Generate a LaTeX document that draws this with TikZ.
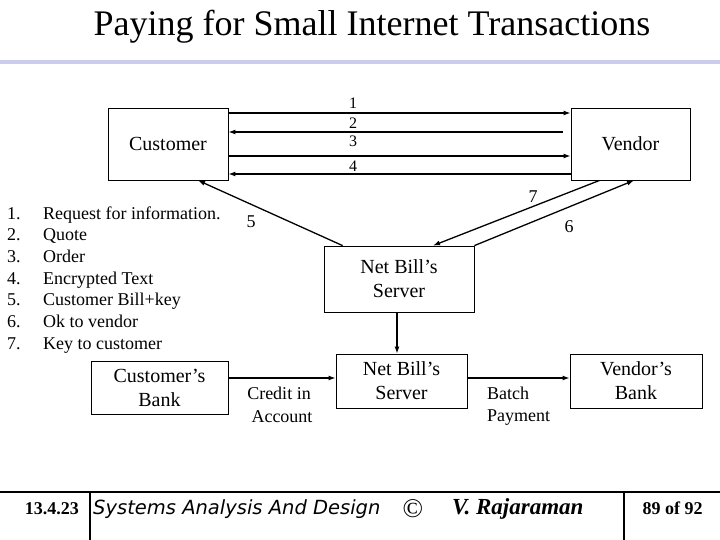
\documentclass[tikz,border=0pt]{standalone}
\usepackage{fontspec}
\setmainfont{Liberation Serif}
\newfontfamily\footsans{DejaVu Sans}
\usetikzlibrary{arrows.meta,calc}
\definecolor{lav}{RGB}{204,204,238}
\tikzset{
  box/.style={draw, line width=0.8pt, inner sep=0pt, align=center,
    font=\fontsize{20}{24}\selectfont},
  harr/.style={line width=1.8pt, -{Latex[length=7pt,width=5pt]}},
  darr/.style={line width=1.3pt, -{Latex[length=7pt,width=5pt]}},
  lbl/.style={anchor=base, inner sep=0pt},
  foot/.style={line width=1.5pt}
}
\begin{document}
\begin{tikzpicture}[x=1pt,y=-1pt]
\useasboundingbox (0,0) rectangle (720,540);
% title
\node[lbl, font=\fontsize{36}{40}\selectfont] (title) at (372,36) {Paying for Small Internet Transactions};
\draw[lav, line width=4pt] (0,62) coordinate (rl) -- (720,62) coordinate (rr);
% boxes
\node[box, minimum width=120pt, minimum height=72pt] (cust) at (168,144) {Customer};
\node[box, minimum width=119pt, minimum height=72pt] (vend) at (630.5,144) {Vendor};
\node[box, minimum width=150pt, minimum height=66pt] (srv) at (399,279) {Net Bill’s\\Server};
\node[box, minimum width=131pt, minimum height=54pt] (srv2) at (401.5,381) {Net Bill’s\\Server};
\node[box, minimum width=137pt, minimum height=53pt] (cbank) at (159.5,387.5) {Customer’s\\Bank};
\node[box, minimum width=132pt, minimum height=54pt] (vbank) at (636,381) {Vendor’s\\Bank};
% customer <-> vendor
\draw[harr] ([yshift=31pt]cust.east) -- ([yshift=31pt]cust.east -| vend.west);
\draw[harr] ([xshift=-8pt,yshift=12pt]vend.west) -- ([yshift=12pt]vend.west -| cust.east);
\draw[harr] ([yshift=-12pt]cust.east) -- ([yshift=-12pt]cust.east -| vend.west);
\draw[harr] ([yshift=-30pt]vend.west) -- ([yshift=-30pt]vend.west -| cust.east);
\node[lbl, font=\fontsize{16}{18}\selectfont] (l1) at (353,108.5) {1};
\node[lbl, font=\fontsize{16}{18}\selectfont] (l2) at (353,128.5) {2};
\node[lbl, font=\fontsize{16}{18}\selectfont] (l3) at (353,146.5) {3};
\node[lbl, font=\fontsize{16}{18}\selectfont] (l4) at (353,171.5) {4};
% diagonals
\draw[darr] ([xshift=19pt]srv.north west) -- ([xshift=30pt]cust.south);
\draw[darr] ([xshift=29pt]vend.south west) -- ([xshift=34pt]srv.north);
\draw[darr] (srv.north east) -- ([xshift=3.5pt]vend.south);
\node[lbl, font=\fontsize{18}{20}\selectfont] (l5) at (251,227) {5};
\node[lbl, font=\fontsize{18}{20}\selectfont] (l6) at (569,233) {6};
\node[lbl, font=\fontsize{18}{20}\selectfont] (l7) at (533,203) {7};
% vertical and bottom
\draw[harr] ([xshift=-2pt]srv.south) -- ([xshift=-2pt]srv.south |- srv2.north);
\draw[harr] ([yshift=9.5pt]cbank.east) -- ([yshift=9.5pt]cbank.east -| srv2.west);
\draw[harr] ([yshift=3pt]srv2.east) -- ([yshift=3pt]srv2.east -| vbank.west);
\node[lbl, font=\fontsize{18}{20}\selectfont] (cr1) at (279,399) {Credit in};
\node[lbl, font=\fontsize{18}{20}\selectfont] (cr2) at (282,422) {Account};
\node[lbl, anchor=base west, font=\fontsize{18}{20}\selectfont] (bp1) at (487,399) {Batch};
\node[lbl, anchor=base west, font=\fontsize{18}{20}\selectfont] (bp2) at (487,421) {Payment};
% list
\node[anchor=base west, inner sep=0pt, font=\fontsize{18}{21.67}\selectfont] (list) at (7,219)
{\begin{tabular}[t]{@{}p{36pt}@{}l@{}}
1. & Request for information.\\
2. & Quote\\
3. & Order\\
4. & Encrypted Text\\
5. & Customer Bill+key\\
6. & Ok to vendor\\
7. & Key to customer
\end{tabular}};
% footer
\draw[foot] (0,492) coordinate (fl) -- (720,492) coordinate (fr);
\draw[foot] (90,492) coordinate (fb1) -- (90,540) coordinate (fb1b);
\draw[foot] (624,492) coordinate (fb2) -- (624,540) coordinate (fb2b);
\node[lbl, anchor=base east, font=\fontsize{18}{20}\selectfont\bfseries] (date) at (79,514) {13.4.23};
\node[lbl, anchor=base west, font=\footsans\fontsize{19.5}{21}\selectfont\itshape] (course) at (93,514) {Systems Analysis And Design};
\node[lbl, font=\fontsize{27}{29}\selectfont] (copy) at (413,517) {©};
\node[lbl, anchor=base west, font=\fontsize{23}{25}\selectfont\bfseries\itshape] (auth) at (452,514) {V. Rajaraman};
\node[lbl, font=\fontsize{18}{20}\selectfont\bfseries] (page) at (672.5,514) {89 of 92};
\end{tikzpicture}
\end{document}
